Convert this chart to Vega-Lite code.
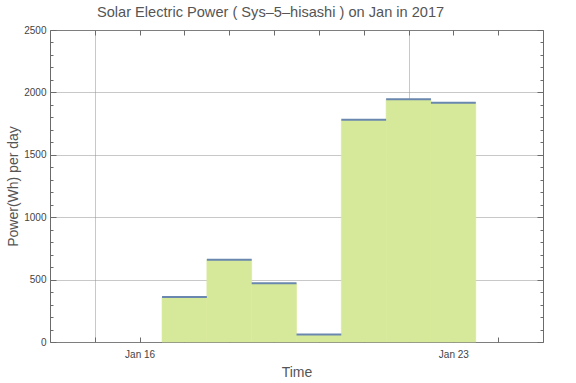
{
  "$schema": "https://vega.github.io/schema/vega-lite/v6.json",
  "autosize": {"type": "none"},
  "width": 493,
  "height": 312,
  "padding": {"left": 50, "top": 30, "right": 33, "bottom": 41},
  "background": "white",
  "title": {
    "text": "Solar Electric Power ( Sys–5–hisashi ) on Jan in 2017",
    "font": "Liberation Sans",
    "fontSize": 14.6,
    "fontWeight": "normal",
    "color": "#555555",
    "anchor": "start",
    "frame": "group",
    "dx": 47,
    "offset": 5
  },
  "config": {
    "view": {"stroke": "#6b6b6b", "strokeWidth": 1},
    "axis": {
      "domain": false,
      "labelFont": "Liberation Sans",
      "labelFontSize": 10,
      "labelColor": "#444444",
      "titleFont": "Liberation Sans",
      "titleFontSize": 14,
      "titleFontWeight": "normal",
      "titleColor": "#555555",
      "tickColor": "#6b6b6b",
      "gridColor": "#919191",
      "gridWidth": 1,
      "zindex": 1
    }
  },
  "data": {
    "values": [
      {"start": "2017-01-16T12:00:00", "end": "2017-01-17T12:00:00", "power": 360},
      {"start": "2017-01-17T12:00:00", "end": "2017-01-18T12:00:00", "power": 660},
      {"start": "2017-01-18T12:00:00", "end": "2017-01-19T12:00:00", "power": 470},
      {"start": "2017-01-19T12:00:00", "end": "2017-01-20T12:00:00", "power": 60},
      {"start": "2017-01-20T12:00:00", "end": "2017-01-21T12:00:00", "power": 1780},
      {"start": "2017-01-21T12:00:00", "end": "2017-01-22T12:00:00", "power": 1945},
      {"start": "2017-01-22T12:00:00", "end": "2017-01-23T12:00:00", "power": 1918}
    ]
  },
  "layer": [
    {
      "mark": {"type": "rect", "color": "#d6e99a", "stroke": "#d6e99a", "strokeWidth": 0.6},
      "encoding": {
        "x": {
          "field": "start",
          "type": "temporal",
          "scale": {"domain": [{"year": 2017, "month": "jan", "date": 14}, {"year": 2017, "month": "jan", "date": 25}]},
          "axis": {
            "orient": "bottom",
            "title": "Time",
            "titlePadding": 6,
            "values": [
              {"year": 2017, "month": "jan", "date": 15},
              {"year": 2017, "month": "jan", "date": 16},
              {"year": 2017, "month": "jan", "date": 17},
              {"year": 2017, "month": "jan", "date": 18},
              {"year": 2017, "month": "jan", "date": 19},
              {"year": 2017, "month": "jan", "date": 20},
              {"year": 2017, "month": "jan", "date": 21},
              {"year": 2017, "month": "jan", "date": 22},
              {"year": 2017, "month": "jan", "date": 23},
              {"year": 2017, "month": "jan", "date": 24}
            ],
            "labelExpr": "date(datum.value) == 16 || date(datum.value) == 23 ? timeFormat(datum.value, '%b %d') : ''",
            "grid": true,
            "gridOpacity": {"condition": {"test": "date(datum.value) == 15 || date(datum.value) == 22", "value": 0.5}, "value": 0},
            "tickSize": -5,
            "labelPadding": 12,
            "labelFlush": false,
            "labelOverlap": false
          }
        },
        "x2": {"field": "end"},
        "y": {
          "field": "power",
          "type": "quantitative",
          "scale": {"domain": [0, 2500], "nice": false},
          "axis": {
            "orient": "left",
            "title": "Power(Wh) per day",
            "titlePadding": 3,
            "values": [0,100,200,300,400,500,600,700,800,900,1000,1100,1200,1300,1400,1500,1600,1700,1800,1900,2000,2100,2200,2300,2400,2500],
            "labelExpr": "datum.value % 500 == 0 ? datum.value : ''",
            "grid": true,
            "gridOpacity": {"condition": {"test": "datum.value % 500 == 0", "value": 0.5}, "value": 0},
            "tickSize": {"condition": {"test": "datum.value % 500 == 0", "value": -6}, "value": -3},
            "labelPadding": 10,
            "labelOverlap": false
          }
        },
        "y2": {"datum": 0}
      }
    },
    {
      "mark": {"type": "rule", "color": "#6a87b0", "strokeWidth": 2},
      "encoding": {
        "x": {
          "field": "start",
          "type": "temporal",
          "axis": {
            "orient": "top",
            "title": null,
            "labels": false,
            "grid": false,
            "tickSize": -5,
            "values": [
              {"year": 2017, "month": "jan", "date": 15},
              {"year": 2017, "month": "jan", "date": 16},
              {"year": 2017, "month": "jan", "date": 17},
              {"year": 2017, "month": "jan", "date": 18},
              {"year": 2017, "month": "jan", "date": 19},
              {"year": 2017, "month": "jan", "date": 20},
              {"year": 2017, "month": "jan", "date": 21},
              {"year": 2017, "month": "jan", "date": 22},
              {"year": 2017, "month": "jan", "date": 23},
              {"year": 2017, "month": "jan", "date": 24}
            ]
          }
        },
        "x2": {"field": "end"},
        "y": {
          "field": "power",
          "type": "quantitative",
          "axis": {
            "orient": "right",
            "title": null,
            "labels": false,
            "grid": false,
            "values": [0,100,200,300,400,500,600,700,800,900,1000,1100,1200,1300,1400,1500,1600,1700,1800,1900,2000,2100,2200,2300,2400,2500],
            "tickSize": {"condition": {"test": "datum.value % 500 == 0", "value": -6}, "value": -3}
          }
        }
      }
    }
  ],
  "resolve": {"axis": {"x": "independent", "y": "independent"}}
}
